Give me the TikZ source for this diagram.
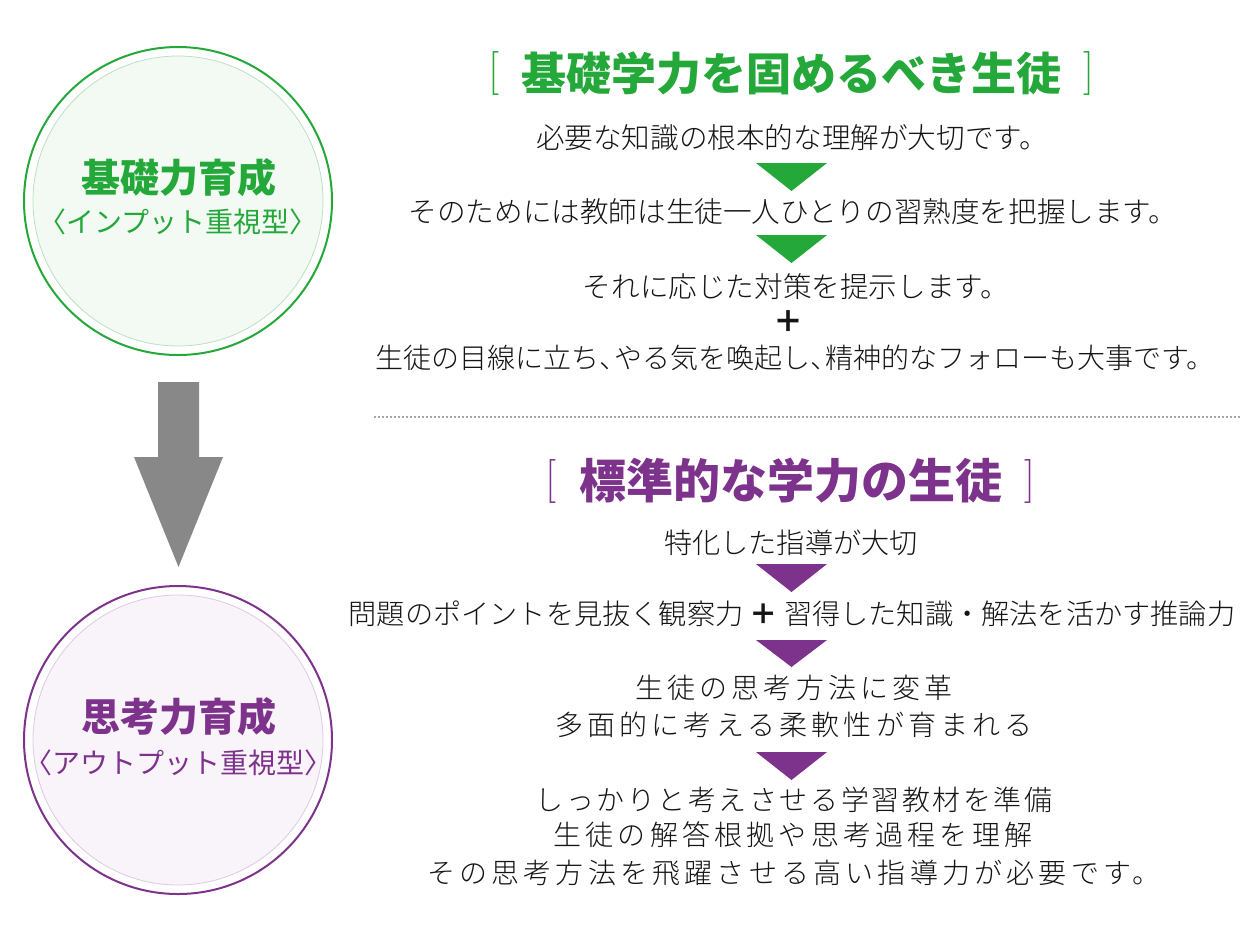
\documentclass[tikz,border=0pt]{standalone}
\usepackage{fontspec}
\IfFontExistsTF{Noto Sans CJK JP Light}{%
  \newfontfamily\jp{Noto Sans CJK JP Light}[BoldFont={Noto Sans CJK JP Bold}]%
  \newfontfamily\jpls{Noto Sans CJK JP Light}[LetterSpace=15]%
  \newfontfamily\jplt{Noto Sans CJK JP Light}[LetterSpace=9]%
}{%
  \newfontfamily\jp{Noto Sans CJK JP}%
  \newfontfamily\jpls{Noto Sans CJK JP}[LetterSpace=15]%
  \newfontfamily\jplt{Noto Sans CJK JP}[LetterSpace=9]%
}
\newfontfamily\jpr{Noto Sans CJK JP}
\definecolor{grn}{RGB}{36,168,58}
\definecolor{grnfill}{RGB}{243,250,244}
\definecolor{grnthin}{RGB}{185,226,192}
\definecolor{prp}{RGB}{125,50,140}
\definecolor{prpfill}{RGB}{249,244,249}
\definecolor{prpthin}{RGB}{222,200,228}
\definecolor{arrowgray}{RGB}{136,136,136}
\definecolor{txt}{RGB}{20,20,20}
\tikzset{
  body/.style={inner sep=0pt, text=txt, font=\jp\fontsize{28.6}{32}\selectfont},
  bodyb/.style={inner sep=0pt, text=txt, font=\jp\fontsize{28.2}{32}\selectfont},
  bodyls/.style={inner sep=0pt, text=txt, font=\jpls\fontsize{28}{32}\selectfont},
  bodylt/.style={inner sep=0pt, text=txt, font=\jplt\fontsize{28}{32}\selectfont},
  ctitle/.style={inner sep=0pt, font=\jpr\bfseries\fontsize{39}{44}\selectfont},
  csub/.style={inner sep=0pt, font=\jpr\fontsize{28}{32}\selectfont},
  htitle/.style={inner sep=0pt, font=\jpr\bfseries\fontsize{45}{50}\selectfont},
  brk/.style={inner sep=0pt, font=\fontsize{44}{48}\selectfont},
  dotline/.style={draw=black!35, line width=1.6pt, dash pattern=on 1.6pt off 2.4pt},
}
\begin{document}
\begin{tikzpicture}[x=1pt,y=-1pt]
\useasboundingbox (0,0) rectangle (1260,946);
% circles
\node[circle, draw=grnthin, line width=0.8pt, fill=grnfill, minimum size=290pt, inner sep=0pt] (c1in) at (178,201) {};
\node[circle, draw=grn, line width=2pt, minimum size=308pt, inner sep=0pt] (c1) at (178,201) {};
\node[ctitle, text=grn] (c1t) at (179,178) {基礎力育成};
\node[csub, text=grn] (c1s) at (178,222) {〈インプット重視型〉};

\node[circle, draw=prpthin, line width=0.8pt, fill=prpfill, minimum size=290pt, inner sep=0pt] (c2in) at (178,740) {};
\node[circle, draw=prp, line width=2pt, minimum size=308pt, inner sep=0pt] (c2) at (178,740) {};
\node[ctitle, text=prp] (c2t) at (179,717) {思考力育成};
\node[csub, text=prp] (c2s) at (178,763) {〈アウトプット重視型〉};

% big gray arrow
\fill[arrowgray] (158,382) -- (199,382) -- (199,457) -- (223,457) -- (178.5,567) -- (134,457) -- (158,457) -- cycle;

% section 1
\node[brk, text=grn] (h1l) at (494,73) {[};
\node[htitle, text=grn] (h1) at (791,73) {基礎学力を固めるべき生徒};
\node[brk, text=grn] (h1r) at (1089,73) {]};
\node[body] (a1) at (792,138) {必要な知識の根本的な理解が大切です。};
\fill[grn] (756,163) -- (827,163) -- (791.5,191) -- cycle;
\node[body] (a2) at (793,212) {そのためには教師は生徒一人ひとりの習熟度を把握します。};
\fill[grn] (756,235) -- (827,235) -- (791.5,263) -- cycle;
\node[body] (a3) at (796,287) {それに応じた対策を提示します。};
\node[body, font=\jpr\bfseries\fontsize{30}{32}\selectfont] (a4) at (788,322) {＋};
\node[body, font=\jp\fontsize{28}{32}\selectfont] (a5) at (795,358) {生徒の目線に立ち、\kern-13pt やる気を喚起し、\kern-13pt 精神的なフォローも大事です。};

\draw[dotline] (374,417) -- (1240,417);

% section 2
\node[brk, text=prp] (h2l) at (551,481) {[};
\node[htitle, text=prp, font=\jpr\bfseries\fontsize{47}{50}\selectfont] (h2) at (791,481) {標準的な学力の生徒};
\node[brk, text=prp] (h2r) at (1030,481) {]};
\node[bodyb] (b1) at (791,543) {特化した指導が大切};
\fill[prp] (756,564) -- (827,564) -- (791.5,592) -- cycle;
\node[bodyb] (b2) at (792,614) {問題のポイントを見抜く観察力 {\jpr\bfseries ＋} 習得した知識・解法を活かす推論力};
\fill[prp] (756,640) -- (827,640) -- (791.5,667) -- cycle;
\node[bodyls] (b3) at (794,688) {生徒の思考方法に変革};
\node[bodyls] (b4) at (794,725) {多面的に考える柔軟性が育まれる};
\fill[prp] (756,752) -- (827,752) -- (791.5,780) -- cycle;
\node[bodylt] (b5) at (794,800) {しっかりと考えさせる学習教材を準備};
\node[bodyls] (b6) at (793,835) {生徒の解答根拠や思考過程を理解};
\node[bodyls] (b7) at (794,873) {その思考方法を飛躍させる高い指導力が必要です。};
\end{tikzpicture}
\end{document}
